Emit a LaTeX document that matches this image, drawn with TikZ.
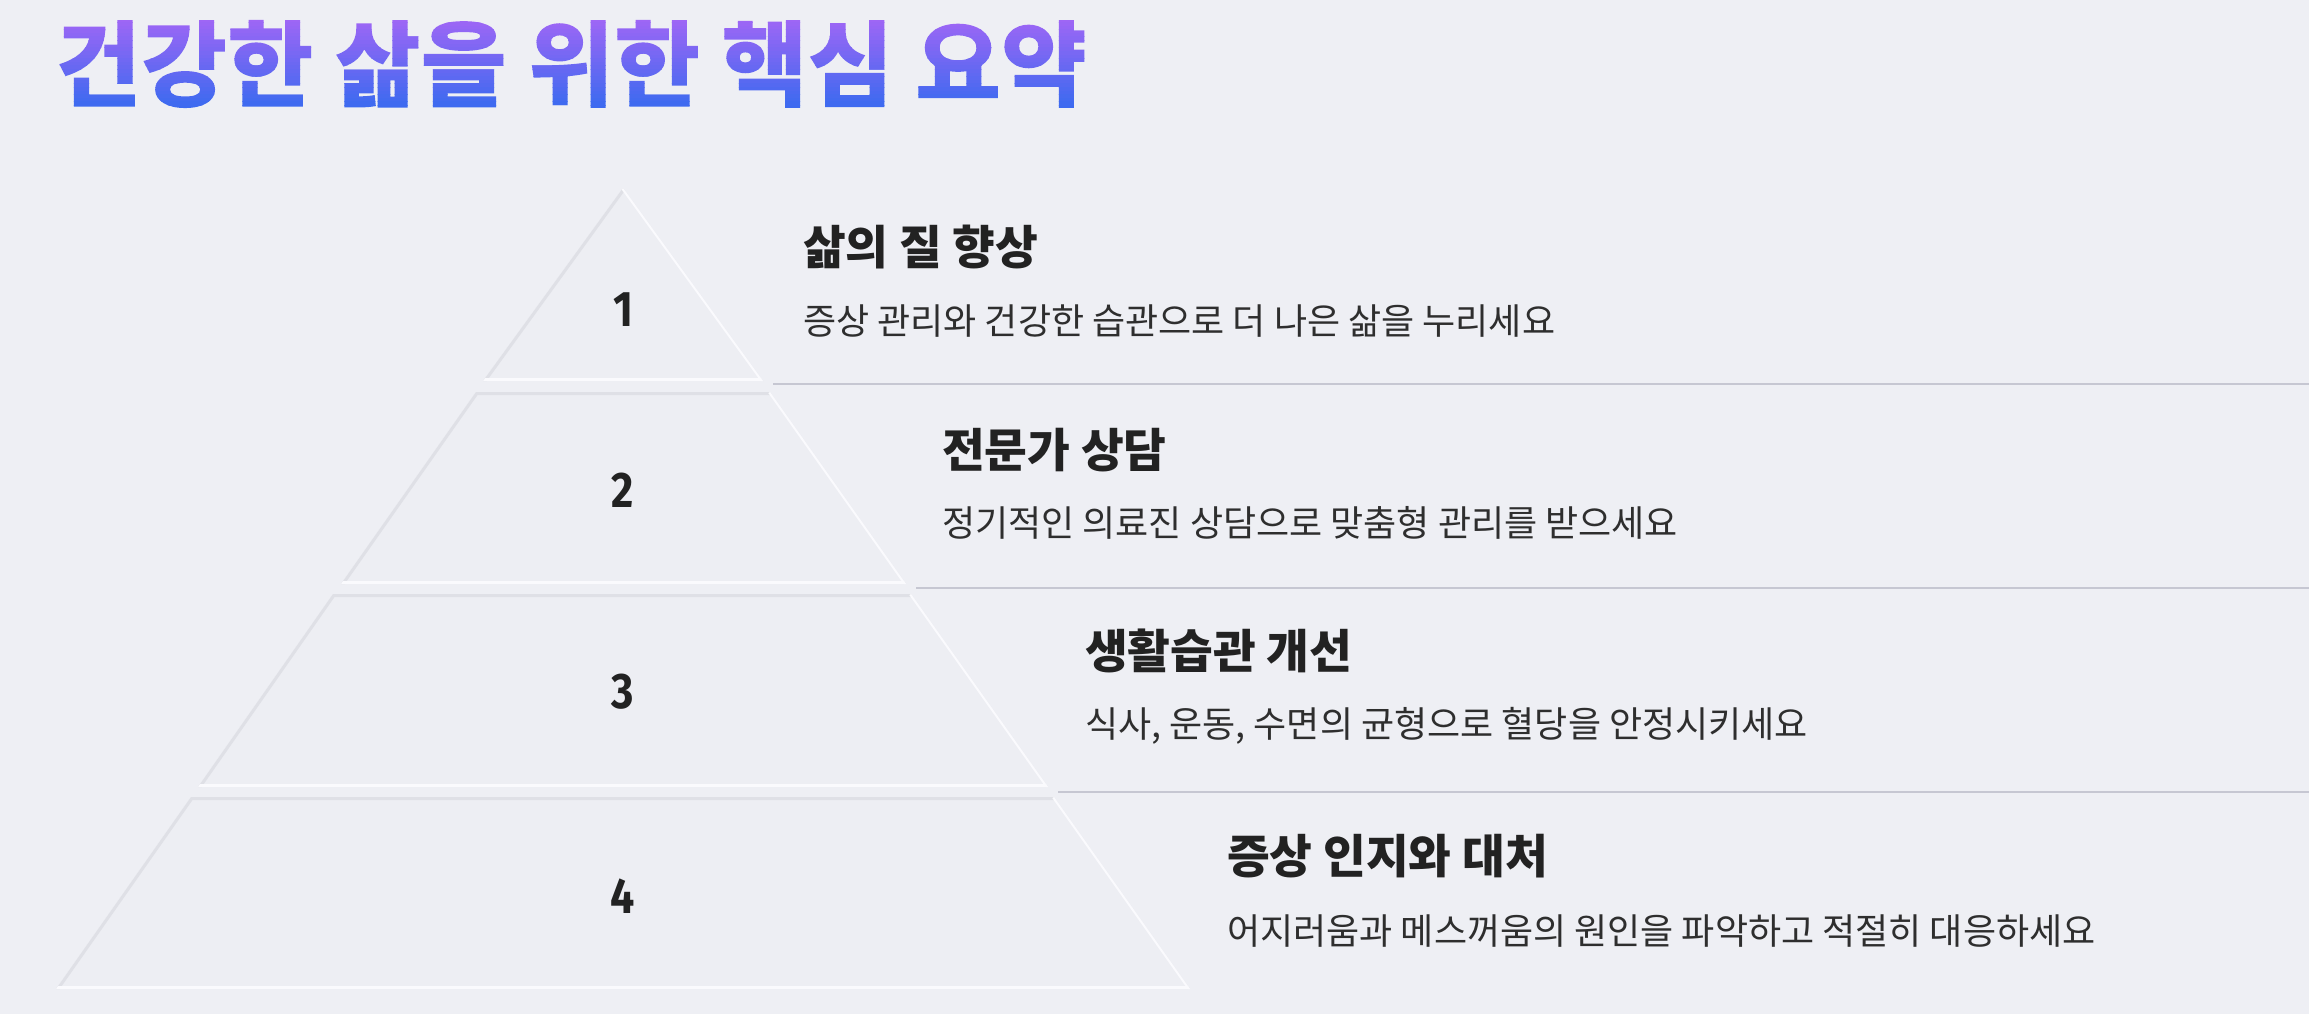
\documentclass[tikz,border=0pt]{standalone}
\usepackage{fontspec}
\setmainfont{Noto Sans CJK KR}
\newfontfamily\krfont{Noto Sans CJK KR}
\newfontfamily\numfont{Fira Sans}
\usetikzlibrary{calc}
\definecolor{bgc}{HTML}{EEEFF4}
\definecolor{segfill}{HTML}{EDEEF3}
\definecolor{darkedge}{HTML}{DFE0E6}
\definecolor{lightedge}{HTML}{FAFAFD}
\definecolor{sepc}{HTML}{C6C7D2}
\definecolor{headc}{HTML}{222222}
\definecolor{descc}{HTML}{2E2E2E}
\definecolor{tmid}{HTML}{6F68F1}
\newcommand\titletext{건강한 삶을 위한 핵심 요약}
\newcommand\titlefontcmd{\krfont\bfseries\fontsize{93.5}{100}\selectfont}
\newcommand\numtext[1]{\scalebox{0.86}[1]{#1}}
\newsavebox\titlebox
% vertical purple-to-blue gradient painted through the title glyphs used as a clip
\newcommand\titlegrad{%
  \pgfmathsetmacro\bandw{\wd\titlebox*0.99626+40}%
  \pgfmathsetmacro\bandx{-\bandw+20}%
  \special{pdf:content 0.627 0.400 0.961 rg \bandx\space 80 \bandw\space 120 re f}%
  \special{pdf:content 0.239 0.416 0.941 rg \bandx\space -80 \bandw\space 74 re f}%
  \foreach \i in {0,...,23}{%
    \pgfmathsetmacro\bandt{(\i+0.5)/24}%
    \pgfmathsetmacro\bandr{0.627-0.388*\bandt}%
    \pgfmathsetmacro\bandg{0.400+0.016*\bandt}%
    \pgfmathsetmacro\bandb{0.961-0.020*\bandt}%
    \pgfmathsetmacro\bandy{80-3.6*(\i+1)-0.3}%
    \special{pdf:content \bandr\space\bandg\space\bandb\space rg \bandx\space\bandy\space\bandw\space 4.2 re f}%
  }%
}
\begin{document}
\begin{tikzpicture}[x=1pt,y=-1pt,
  headstyle/.style={font=\krfont\bfseries\fontsize{46.5}{54}\selectfont, text=headc, anchor=west, inner sep=0pt},
  descstyle/.style={font=\krfont\fontsize{36}{42}\selectfont, text=descc, anchor=west, inner sep=0pt},
  numstyle/.style={font=\numfont\bfseries\fontsize{50}{56}\selectfont, text=headc, inner sep=0pt},
  sepline/.style={draw=sepc, line width=2.6pt},
  darkline/.style={draw=darkedge, line width=6pt},
  lightline/.style={draw=lightedge, line width=7pt},
  segbody/.style={fill=segfill},
]
\fill[bgc] (0,0) rectangle (2309,1014);
\useasboundingbox (0,0) rectangle (2309,1014);

% title (gradient text)
\node[anchor=west, inner sep=0pt, text=tmid] (title) at (55,64)
  {\sbox\titlebox{\titlefontcmd\titletext}\special{pdf:code q 7 Tr}\usebox\titlebox\titlegrad\special{pdf:code Q}};

% segment 1 (triangle)
\begin{scope}
  \clip (483,381) -- (623,188) -- (763,381) -- cycle;
  \fill[segbody] (483,381) -- (623,188) -- (763,381) -- cycle;
  \draw[darkline] (483,381) -- (623,188);
  \draw[lightline, line width=4pt] (623,188) -- (763,381);
  \draw[lightline] (483,381) -- (763,381);
\end{scope}
% segment 2
\begin{scope}
  \clip (341,584) -- (476,392) -- (770,392) -- (906,584) -- cycle;
  \fill[segbody] (341,584) -- (476,392) -- (770,392) -- (906,584) -- cycle;
  \draw[darkline] (341,584) -- (476,392) -- (770,392);
  \draw[lightline, line width=4pt] (770,392) -- (906,584);
  \draw[lightline] (341,584) -- (906,584);
\end{scope}
% segment 3
\begin{scope}
  \clip (198,787) -- (333,594) -- (911,594) -- (1048,787) -- cycle;
  \fill[segbody] (198,787) -- (333,594) -- (911,594) -- (1048,787) -- cycle;
  \draw[darkline] (198,787) -- (333,594) -- (911,594);
  \draw[lightline, line width=4pt] (911,594) -- (1048,787);
  \draw[lightline] (198,787) -- (1048,787);
\end{scope}
% segment 4
\begin{scope}
  \clip (56,989) -- (191,797) -- (1054,797) -- (1190,989) -- cycle;
  \fill[segbody] (56,989) -- (191,797) -- (1054,797) -- (1190,989) -- cycle;
  \draw[darkline] (56,989) -- (191,797) -- (1054,797);
  \draw[lightline, line width=4pt] (1054,797) -- (1190,989);
  \draw[lightline] (56,989) -- (1190,989);
\end{scope}

% numbers
\node[numstyle] (n1) at (623,310) {\numtext{1}};
\node[numstyle] (n2) at (623,490) {\numtext{2}};
\node[numstyle] (n3) at (623,692) {\numtext{3}};
\node[numstyle] (n4) at (623,896) {\numtext{4}};

% separator lines
\coordinate (s1a) at (773,384);
\coordinate (s1b) at (2309,384);
\coordinate (s2a) at (916,588);
\coordinate (s2b) at (2309,588);
\coordinate (s3a) at (1058,792);
\coordinate (s3b) at (2309,792);
\draw[sepline] (s1a) -- (s1b);
\draw[sepline] (s2a) -- (s2b);
\draw[sepline] (s3a) -- (s3b);

% texts
\node[headstyle] (h1) at (803,247) {삶의 질 향상};
\node[descstyle] (d1) at (803,321) {증상 관리와 건강한 습관으로 더 나은 삶을 누리세요};
\node[headstyle] (h2) at (942,450) {전문가 상담};
\node[descstyle] (d2) at (942,523) {정기적인 의료진 상담으로 맞춤형 관리를 받으세요};
\node[headstyle] (h3) at (1085,651) {생활습관 개선};
\node[descstyle] (d3) at (1085,726) {식사, 운동, 수면의 균형으로 혈당을 안정시키세요};
\node[headstyle] (h4) at (1227,856) {증상 인지와 대처};
\node[descstyle] (d4) at (1227,931) {어지러움과 메스꺼움의 원인을 파악하고 적절히 대응하세요};
\end{tikzpicture}
\end{document}
